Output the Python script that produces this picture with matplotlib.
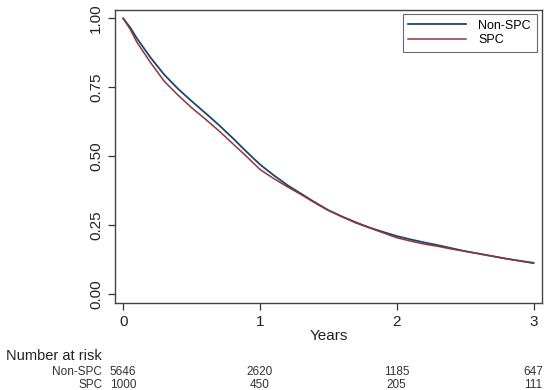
import numpy as np
import matplotlib
matplotlib.use('Agg')
import matplotlib.pyplot as plt
import matplotlib.transforms as mtransforms

plt.rcParams['font.family'] = ['Liberation Sans', 'DejaVu Sans']

# survival estimates (years -> S(t))
years = [0.0, 0.05, 0.1, 0.2, 0.3, 0.4, 0.5, 0.6, 0.7, 0.8, 0.9, 1.0,
         1.1, 1.2, 1.3, 1.4, 1.5, 1.6, 1.7, 1.8, 1.9, 2.0,
         2.1, 2.2, 2.3, 2.4, 2.5, 2.6, 2.7, 2.8, 2.9, 3.0]
surv_non_spc = [1.000, 0.968, 0.928, 0.858, 0.796, 0.745, 0.700, 0.657, 0.613, 0.566, 0.517, 0.470,
                0.431, 0.395, 0.364, 0.333, 0.304, 0.281, 0.260, 0.241, 0.225, 0.210,
                0.198, 0.187, 0.177, 0.166, 0.155, 0.146, 0.137, 0.128, 0.120, 0.113]
surv_spc = [1.000, 0.962, 0.914, 0.840, 0.772, 0.722, 0.676, 0.635, 0.592, 0.546, 0.500, 0.452,
            0.419, 0.389, 0.361, 0.331, 0.303, 0.280, 0.258, 0.240, 0.222, 0.204,
            0.192, 0.181, 0.173, 0.163, 0.155, 0.146, 0.137, 0.128, 0.120, 0.111]

# number at risk table
risk_times = [0, 1, 2, 3]
risk_non_spc = [5646, 2620, 1185, 647]
risk_spc = [1000, 450, 205, 111]

blue = '#1a476f'
red = '#90353b'

fig = plt.figure(figsize=(5.5, 3.9), dpi=100)
ax = fig.add_axes([0.209, 0.223, 0.776, 0.751])

ax.plot(years, surv_non_spc, color=blue, lw=1.3, label='Non-SPC')
ax.plot(years, surv_spc, color=red, lw=1.1, label='SPC')

ax.set_xlim(-0.06, 3.06)
ax.set_ylim(-0.033, 1.03)
ax.set_xticks([0, 1, 2, 3])
ax.set_yticks([0, 0.25, 0.5, 0.75, 1.0])
ax.set_yticklabels(['0.00', '0.25', '0.50', '0.75', '1.00'], rotation=90, va='center')
ax.tick_params(labelsize=11, length=5, width=0.9, color='#333333', labelcolor='#222222')
ax.set_xlabel('Years', fontsize=11, labelpad=0, color='#222222')
for s in ax.spines.values():
    s.set_color('#444444')
    s.set_linewidth(1.0)

leg = ax.legend(loc='upper right', bbox_to_anchor=(0.988, 0.986), borderaxespad=0,
                fontsize=9, frameon=True, fancybox=False, handlelength=4.6,
                borderpad=0.45, labelspacing=0.2, handletextpad=1.0)
leg.get_frame().set_edgecolor('#444444')
leg.get_frame().set_linewidth(0.8)

# number at risk table
trans = mtransforms.blended_transform_factory(ax.transData, fig.transFigure)
fig.text(0.01, 0.087, 'Number at risk', fontsize=10.5, va='center', color='#222222')
fig.text(0.186, 0.046, 'Non-SPC', fontsize=8.5, ha='right', va='center', color='#333333')
fig.text(0.186, 0.013, 'SPC', fontsize=8.5, ha='right', va='center', color='#333333')
for t, n1, n2 in zip(risk_times, risk_non_spc, risk_spc):
    ax.text(t, 0.046, str(n1), transform=trans, fontsize=8.5, ha='center', va='center',
            clip_on=False, color='#333333')
    ax.text(t, 0.013, str(n2), transform=trans, fontsize=8.5, ha='center', va='center',
            clip_on=False, color='#333333')

fig.savefig('out.png', dpi=100)
